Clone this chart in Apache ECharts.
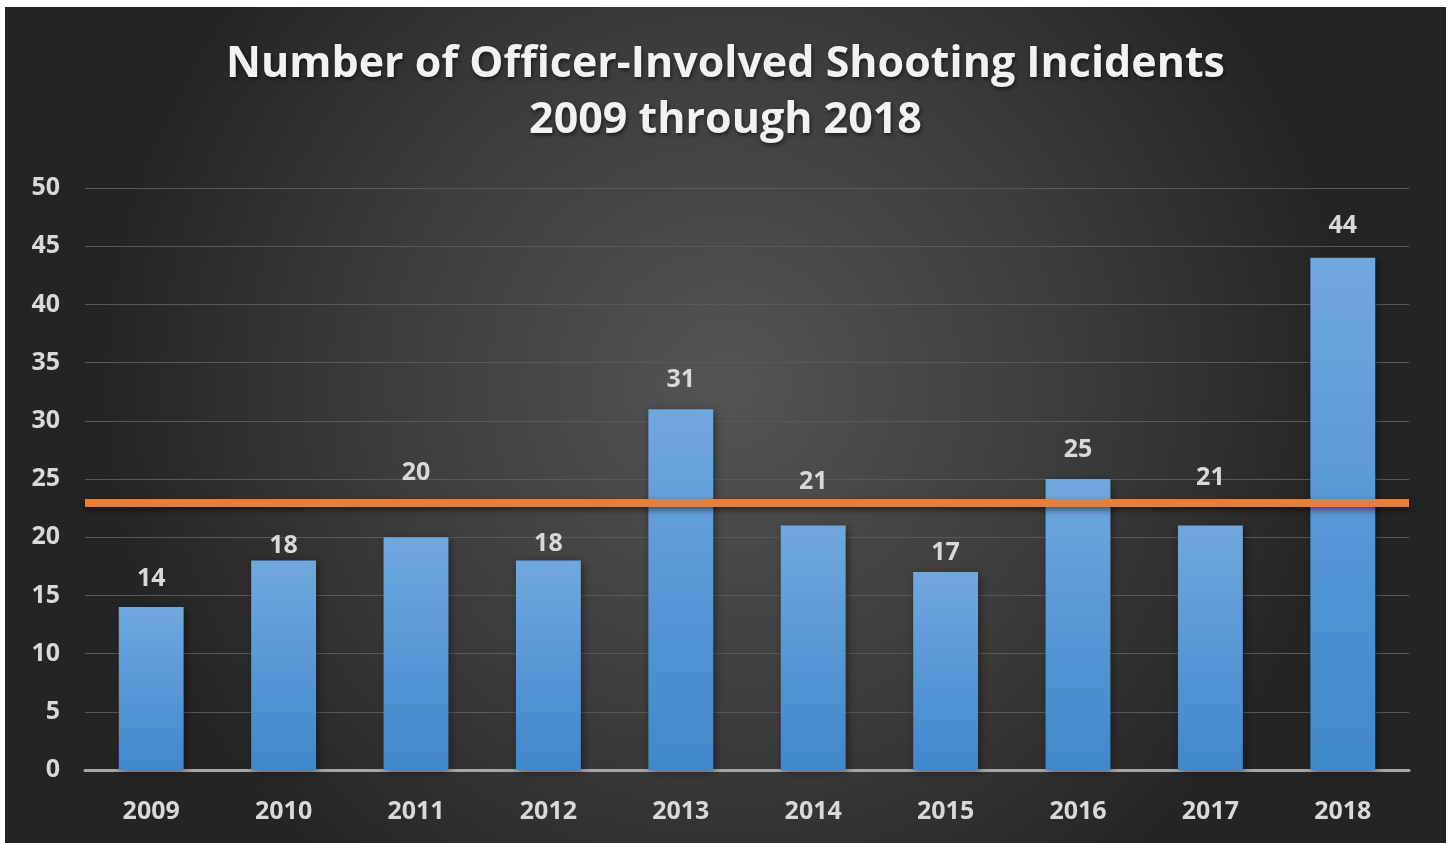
<!DOCTYPE html>
<html>
<head>
<meta charset="utf-8">
<title>Officer-Involved Shooting Incidents</title>
<script src="https://cdn.jsdelivr.net/npm/echarts@6/dist/echarts.min.js"></script>
<style>
    html, body { margin: 0; padding: 0; background: #fff; }
    #chart {
        position: absolute;
        left: 5px;
        top: 7px;
        width: 1441px;
        height: 836px;
    }
</style>
</head>
<body>
<div id="chart"></div>
<script>
// 数据
const years = ['2009', '2010', '2011', '2012', '2013', '2014', '2015', '2016', '2017', '2018'];
const incidents = [14, 18, 20, 18, 31, 21, 17, 25, 21, 44];
const averageLine = [23];
const yTicks = [0, 5, 10, 15, 20, 25, 30, 35, 40, 45, 50];

// labels were nudged by hand in the original so they clear the orange line
const labelGap = [16, 2, 52, 4, 17, 31, 7, 17, 35, 19];

const textFont = '"Open Sans", "DejaVu Sans", sans-serif';

let chart = echarts.init(document.getElementById('chart'));

let barData = incidents.map((v, i) => ({
    value: v,
    label: { distance: labelGap[i] },
}));

let option = {
    backgroundColor: {
        type: 'radial',
        x: 0.5,
        y: 0.45,
        r: 0.75,
        colorStops: [
            { offset: 0, color: '#545454' },
            { offset: 0.55, color: '#3c3c3c' },
            { offset: 1, color: '#242424' },
        ],
    },
    title: {
        text: 'Number of Officer-Involved Shooting Incidents\n2009 through 2018',
        left: 'center',
        top: 25,
        textStyle: {
            color: '#f2f2f2',
            fontFamily: textFont,
            fontWeight: 'bold',
            fontSize: 43,
            lineHeight: 56,
            textShadowColor: 'rgba(0,0,0,0.6)',
            textShadowBlur: 4,
            textShadowOffsetX: 1,
            textShadowOffsetY: 2,
        },
    },
    grid: {
        left: 80,
        right: 37,
        top: 181,
        bottom: 73,
        outerBoundsMode: 'none',
    },
    xAxis: {
        type: 'category',
        data: years,
        axisTick: { show: false },
        axisLine: { lineStyle: { color: '#a6a6a6', width: 3 } },
        axisLabel: {
            color: '#d9d9d9',
            fontFamily: textFont,
            fontWeight: 'bold',
            fontSize: 25,
            margin: 29,
        },
    },
    yAxis: {
        type: 'value',
        min: yTicks[0],
        max: yTicks[yTicks.length - 1],
        interval: yTicks[1] - yTicks[0],
        axisLine: { show: false },
        axisTick: { show: false },
        splitLine: { lineStyle: { color: '#595959', width: 1 } },
        axisLabel: {
            color: '#d9d9d9',
            fontFamily: textFont,
            fontWeight: 'bold',
            fontSize: 25,
            margin: 25,
        },
    },
    series: [
        {
            type: 'bar',
            data: barData,
            barWidth: '49%',
            itemStyle: {
                color: {
                    type: 'linear',
                    x: 0, y: 0, x2: 0, y2: 1,
                    colorStops: [
                        { offset: 0, color: '#70a8de' },
                        { offset: 1, color: '#3f88cc' },
                    ],
                },
                shadowColor: 'rgba(0,0,0,0.45)',
                shadowBlur: 8,
                shadowOffsetX: 2,
                shadowOffsetY: 2,
            },
            label: {
                show: true,
                position: 'top',
                color: '#d9d9d9',
                fontFamily: textFont,
                fontWeight: 'bold',
                fontSize: 25,
            },
            markLine: {
                silent: true,
                symbol: 'none',
                label: { show: false },
                lineStyle: {
                    type: 'solid',
                    color: '#ed7d31',
                    width: 8,
                    shadowColor: 'rgba(0,0,0,0.5)',
                    shadowBlur: 6,
                    shadowOffsetY: 3,
                },
                data: averageLine.map((v) => ({ yAxis: v })),
            },
            animation: false,
        },
    ],
    animation: false,
};

chart.setOption(option);
</script>
</body>
</html>
